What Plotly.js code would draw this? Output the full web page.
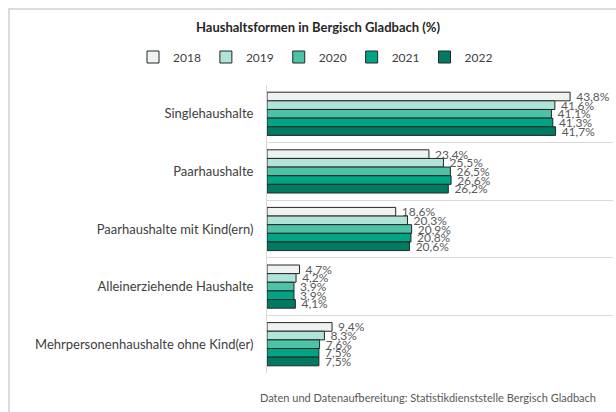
<!DOCTYPE html>
<html>
<head>
<meta charset="utf-8">
<script src="https://cdn.plot.ly/plotly-3.0.1.min.js"></script>
<style>
  html, body { margin: 0; padding: 0; background: #ffffff; }
  #chart { width: 616px; height: 412px; }
  #frame { position: absolute; left: 8px; top: 8px; width: 700px; height: 500px;
           border-left: 2px solid #dcdcdc; border-top: 2px solid #dcdcdc; pointer-events: none; }
</style>
</head>
<body>
<div id="chart"></div>
<div id="frame"></div>
<script>
const categories = [
  "Singlehaushalte",
  "Paarhaushalte",
  "Paarhaushalte mit Kind(ern)",
  "Alleinerziehende Haushalte",
  "Mehrpersonenhaushalte ohne Kind(er)"
];
const years = ["2018", "2019", "2020", "2021", "2022"];
const values2018 = [43.8, 23.4, 18.6, 4.7, 9.4];
const values2019 = [41.6, 25.5, 20.3, 4.2, 8.3];
const values2020 = [41.1, 26.5, 20.9, 3.9, 7.6];
const values2021 = [41.3, 26.6, 20.8, 3.9, 7.5];
const values2022 = [41.7, 26.2, 20.6, 4.1, 7.5];
const seriesValues = [values2018, values2019, values2020, values2021, values2022];
const colors = ["#eef2f0", "#b0e4d8", "#4cc2a6", "#00a585", "#007b62"];

const fmt = v => " " + v.toFixed(1).replace(".", ",") + "%";
const FONT = "Lato, 'Open Sans', sans-serif";

const traces = years.map((yr, i) => ({
  type: "bar",
  orientation: "h",
  name: yr,
  y: categories,
  x: seriesValues[i],
  text: seriesValues[i].map(fmt),
  textposition: "outside",
  constraintext: "none",
  cliponaxis: false,
  textfont: { family: FONT, size: 12, color: "#595959" },
  marker: { color: colors[i], line: { color: "#262626", width: 1 } },
  hoverinfo: "skip"
}));

const layout = {
  width: 616,
  height: 412,
  margin: { l: 267, r: 3, t: 85, b: 39 },
  paper_bgcolor: "rgba(0,0,0,0)",
  plot_bgcolor: "#ffffff",
  font: { family: FONT, color: "#404040" },
  title: {
    text: "<b>Haushaltsformen in Bergisch Gladbach (%)</b>",
    font: { family: FONT, size: 13, color: "#262626" },
    xref: "container", x: 318 / 616, xanchor: "center",
    yref: "container", y: 1 - 27 / 412, yanchor: "middle"
  },
  showlegend: true,
  legend: {
    orientation: "h",
    xref: "paper", x: (133 - 267) / 346, xanchor: "left",
    yref: "paper", y: (373 - 57) / 288, yanchor: "middle",
    font: { family: FONT, size: 12, color: "#404040" },
    traceorder: "normal",
    itemwidth: 30
  },
  barmode: "group",
  bargap: 0.25,
  bargroupgap: 0,
  xaxis: {
    range: [0, 50],
    visible: false,
    fixedrange: true
  },
  yaxis: {
    type: "category",
    autorange: "reversed",
    tickson: "boundaries",
    showgrid: true,
    gridcolor: "#d9d9d9",
    gridwidth: 1,
    showline: true,
    linecolor: "#d9d9d9",
    linewidth: 1,
    ticks: "",
    ticklabelstandoff: 10,
    tickfont: { family: FONT, size: 13, color: "#404040" },
    fixedrange: true
  },
  annotations: [{
    text: "Daten und Datenaufbereitung: Statistikdienststelle Bergisch Gladbach",
    xref: "paper", yref: "paper",
    x: (258 - 267) / 346, xanchor: "left",
    y: (373 - 397) / 288, yanchor: "middle",
    showarrow: false,
    font: { family: FONT, size: 11, color: "#595959" }
  }]
};

Plotly.newPlot("chart", traces, layout, { displayModeBar: false, staticPlot: true });
</script>
</body>
</html>
